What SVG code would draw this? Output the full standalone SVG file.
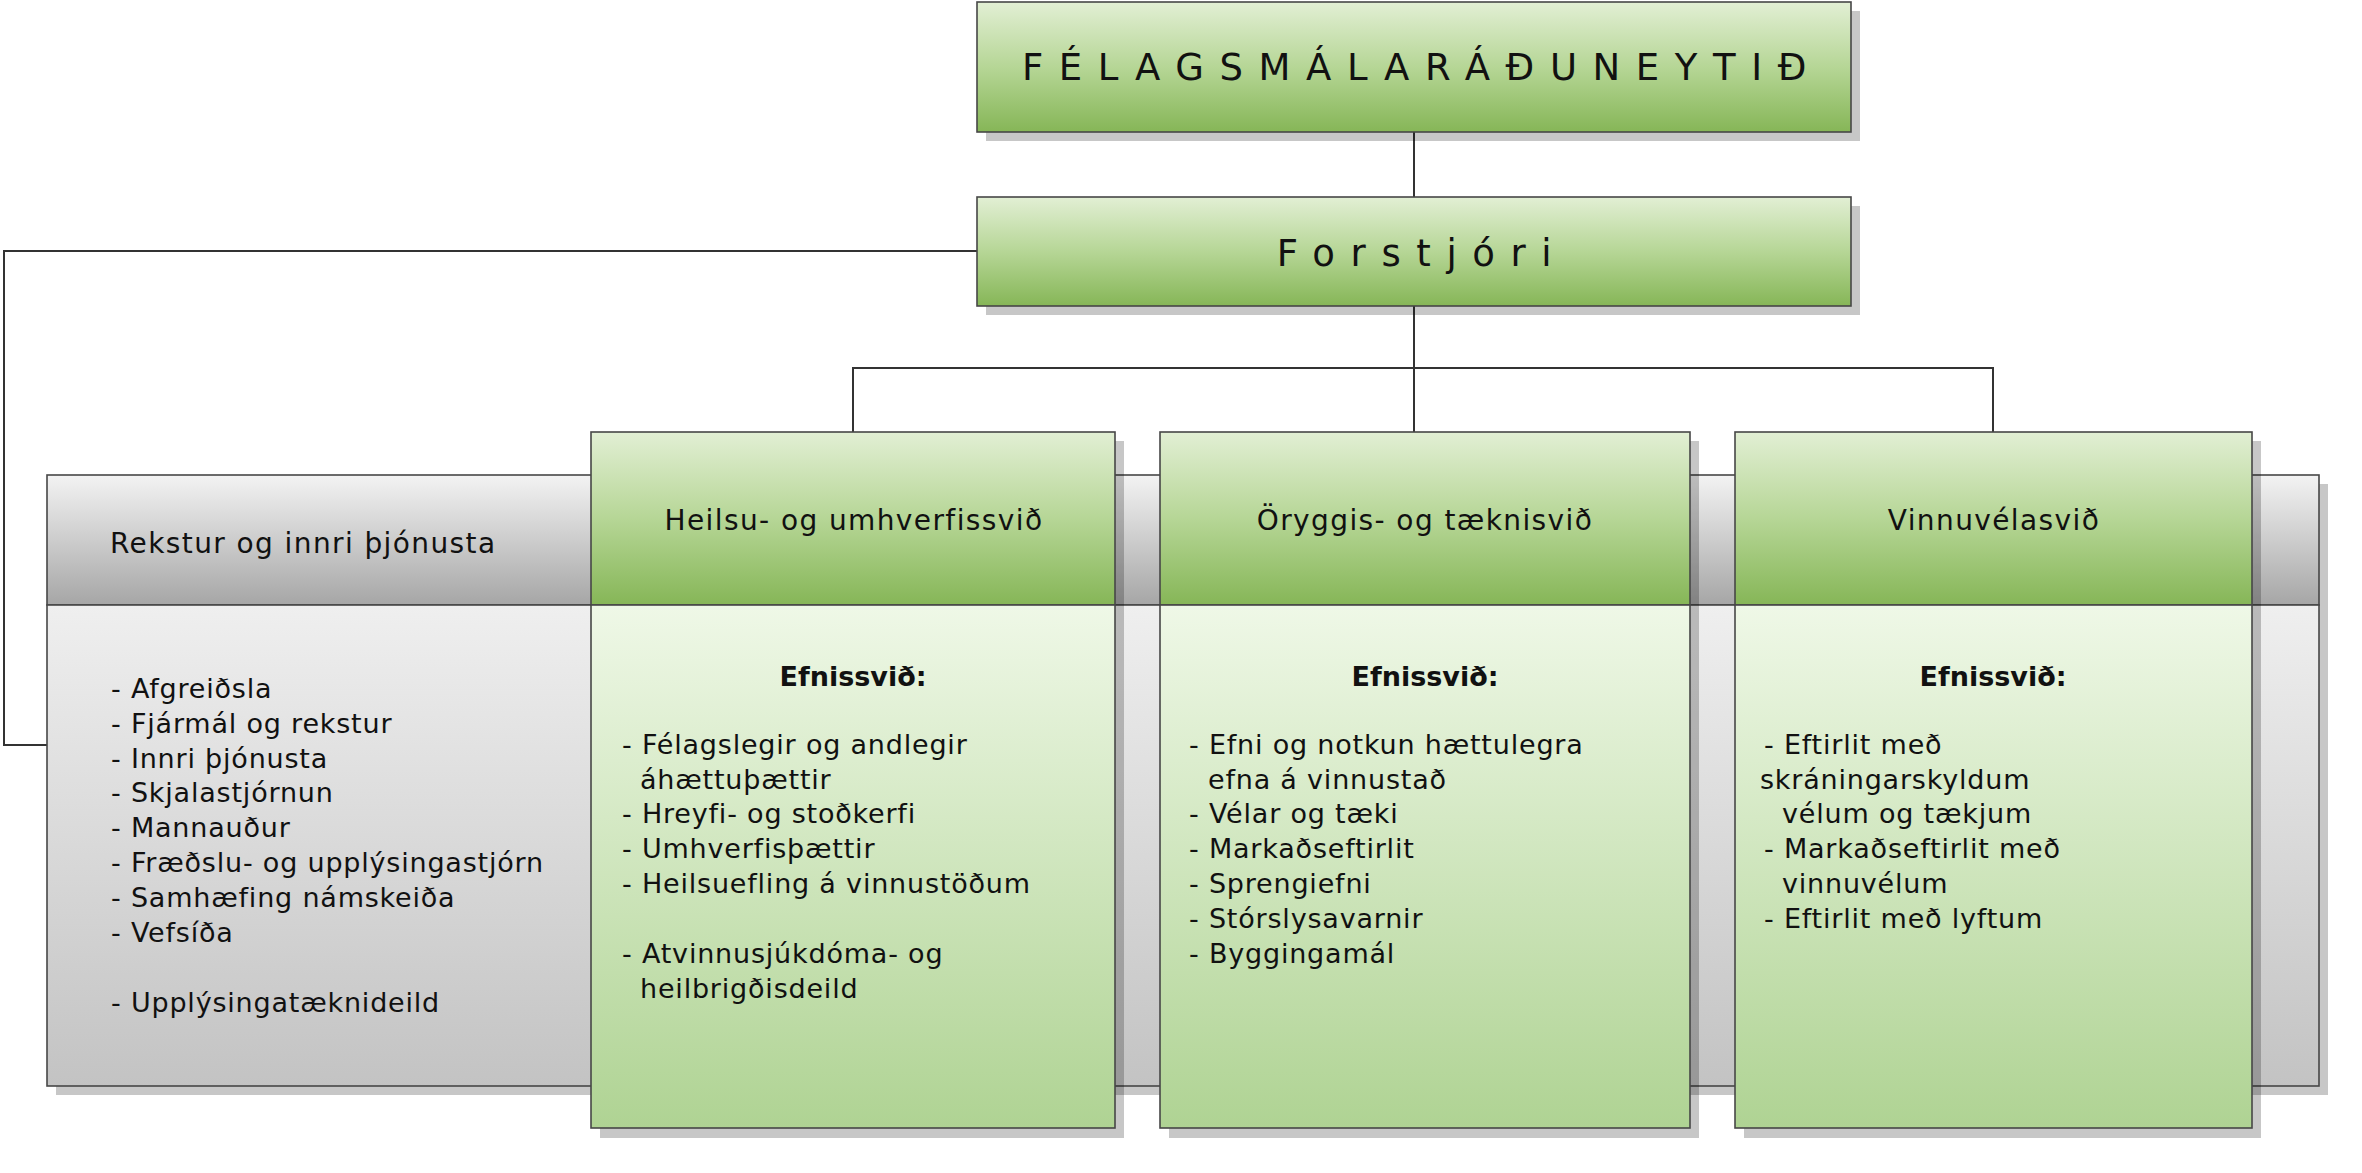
<svg xmlns="http://www.w3.org/2000/svg" width="2362" height="1173" viewBox="0 0 2362 1173">
<defs>
<linearGradient id="gGreen" x1="0" y1="0" x2="0" y2="1">
<stop offset="0" stop-color="#e2efd4"/>
<stop offset="0.5" stop-color="#b6d696"/>
<stop offset="1" stop-color="#86b657"/>
</linearGradient>
<linearGradient id="gGreenBody" x1="0" y1="0" x2="0" y2="1">
<stop offset="0" stop-color="#eff8e7"/>
<stop offset="1" stop-color="#afd393"/>
</linearGradient>
<linearGradient id="gGrayHead" x1="0" y1="0" x2="0" y2="1">
<stop offset="0" stop-color="#f3f3f3"/>
<stop offset="1" stop-color="#a6a6a6"/>
</linearGradient>
<linearGradient id="gGrayBody" x1="0" y1="0" x2="0" y2="1">
<stop offset="0" stop-color="#efefef"/>
<stop offset="1" stop-color="#c3c3c3"/>
</linearGradient>
</defs>
<style>
.sh{fill:#000;fill-opacity:0.22}
.box{stroke:#474747;stroke-width:1.6}
.green{fill:url(#gGreen)}
.gbody{fill:url(#gGreenBody)}
.ghead{fill:url(#gGrayHead)}
.gybody{fill:url(#gGrayBody)}
.conn{fill:none;stroke:#333;stroke-width:2}
text{font-family:"DejaVu Sans",Verdana,sans-serif;fill:#111}
.title{font-size:37px;letter-spacing:15.6px;text-anchor:middle}
.head{font-size:28px;letter-spacing:1.4px}
.mid{text-anchor:middle}
.bold{font-size:27px;font-weight:bold;text-anchor:middle}
.body{font-size:27px;letter-spacing:0.8px}
</style>
<rect width="2362" height="1173" fill="#fff"/>

<g id="connectors">
<path class="conn" d="M1414 132 V197"/>
<path class="conn" d="M1414 306 V432" stroke-width="2.6"/>
<path class="conn" d="M853 432 V368 H1993 V432"/>
<path class="conn" d="M977 251 H4 V745 H47"/>
</g>

<g id="node-ministry">
<rect class="sh" x="986" y="11" width="874" height="130"/>
<rect class="box green" x="977" y="2" width="874" height="130"/>
<text class="title" x="1422" y="80">FÉLAGSMÁLARÁÐUNEYTIÐ</text>
</g>

<g id="node-director">
<rect class="sh" x="986" y="206" width="874" height="109"/>
<rect class="box green" x="977" y="197" width="874" height="109"/>
<text class="title" x="1422" y="266">Forstjóri</text>
</g>

<g id="node-rekstur">
<rect class="sh" x="56" y="484" width="2272" height="130"/>
<rect class="sh" x="56" y="614" width="2272" height="481"/>
<rect class="box ghead" x="47" y="475" width="2272" height="130"/>
<rect class="box gybody" x="47" y="605" width="2272" height="481"/>
<text class="head" x="110" y="553">Rekstur og innri þjónusta</text>
<text class="body" x="111" y="698">- Afgreiðsla</text>
<text class="body" x="111" y="733">- Fjármál og rekstur</text>
<text class="body" x="111" y="768">- Innri þjónusta</text>
<text class="body" x="111" y="802">- Skjalastjórnun</text>
<text class="body" x="111" y="837">- Mannauður</text>
<text class="body" x="111" y="872">- Fræðslu- og upplýsingastjórn</text>
<text class="body" x="111" y="907">- Samhæfing námskeiða</text>
<text class="body" x="111" y="942">- Vefsíða</text>
<text class="body" x="111" y="1012">- Upplýsingatæknideild</text>
</g>

<g id="node-heilsu">
<rect class="sh" x="600" y="441" width="524" height="697"/>
<rect class="box green" x="591" y="432" width="524" height="173"/>
<rect class="box gbody" x="591" y="605" width="524" height="523"/>
<text class="head mid" x="854" y="530">Heilsu- og umhverfissvið</text>
<text class="bold" x="853" y="686">Efnissvið:</text>
<text class="body" x="622" y="754">- Félagslegir og andlegir</text>
<text class="body" x="640" y="789">áhættuþættir</text>
<text class="body" x="622" y="823">- Hreyfi- og stoðkerfi</text>
<text class="body" x="622" y="858">- Umhverfisþættir</text>
<text class="body" x="622" y="893">- Heilsuefling á vinnustöðum</text>
<text class="body" x="622" y="963">- Atvinnusjúkdóma- og</text>
<text class="body" x="640" y="998">heilbrigðisdeild</text>
</g>

<g id="node-oryggis">
<rect class="sh" x="1169" y="441" width="530" height="697"/>
<rect class="box green" x="1160" y="432" width="530" height="173"/>
<rect class="box gbody" x="1160" y="605" width="530" height="523"/>
<text class="head mid" x="1425" y="530">Öryggis- og tæknisvið</text>
<text class="bold" x="1425" y="686">Efnissvið:</text>
<text class="body" x="1189" y="754">- Efni og notkun hættulegra</text>
<text class="body" x="1208" y="789">efna á vinnustað</text>
<text class="body" x="1189" y="823">- Vélar og tæki</text>
<text class="body" x="1189" y="858">- Markaðseftirlit</text>
<text class="body" x="1189" y="893">- Sprengiefni</text>
<text class="body" x="1189" y="928">- Stórslysavarnir</text>
<text class="body" x="1189" y="963">- Byggingamál</text>
</g>

<g id="node-vinnu">
<rect class="sh" x="1744" y="441" width="517" height="697"/>
<rect class="box green" x="1735" y="432" width="517" height="173"/>
<rect class="box gbody" x="1735" y="605" width="517" height="523"/>
<text class="head mid" x="1994" y="530">Vinnuvélasvið</text>
<text class="bold" x="1993" y="686">Efnissvið:</text>
<text class="body" x="1764" y="754">- Eftirlit með</text>
<text class="body" x="1760" y="789">skráningarskyldum</text>
<text class="body" x="1782" y="823">vélum og tækjum</text>
<text class="body" x="1764" y="858">- Markaðseftirlit með</text>
<text class="body" x="1782" y="893">vinnuvélum</text>
<text class="body" x="1764" y="928">- Eftirlit með lyftum</text>
</g>
</svg>
